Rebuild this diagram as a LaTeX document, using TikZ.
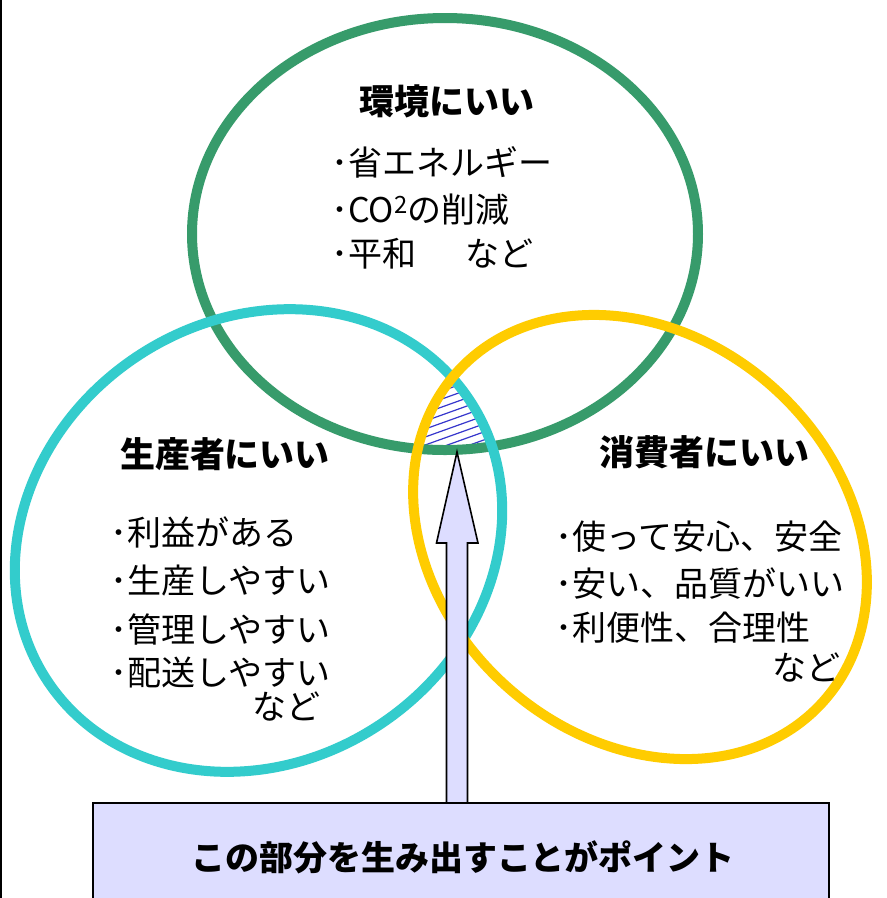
\documentclass[tikz,border=0pt]{standalone}
\usepackage{fontspec}
\usetikzlibrary{calc}
\setmainfont{Noto Sans CJK JP}
\definecolor{ringgreen}{HTML}{379B6B}
\definecolor{ringcyan}{HTML}{33CCCC}
\definecolor{ringyellow}{HTML}{FFCC00}
\definecolor{lav}{HTML}{DDDDFF}
\definecolor{hatchblue}{HTML}{3636CC}
\begin{document}
\begin{tikzpicture}[x=1pt,y=-1pt,
  ring/.style={line width=10pt},
  itemtxt/.style={font=\fontsize{34}{40}\selectfont, inner sep=0pt, anchor=west},
  titletxt/.style={font=\bfseries\fontsize{35}{40}\selectfont, inner sep=0pt},
  hatchline/.style={draw=hatchblue, line width=1.2pt},
  blockarrow/.style={draw=black, fill=lav, line width=1.6pt, line join=miter},
  pointbox/.style={draw=black, fill=lav, line width=2.5pt}]
\useasboundingbox (0,0) rectangle (887,898);
\clip (0,0) rectangle (887,898);
\fill[white] (0,0) rectangle (887,898);
\draw[line width=2pt] (1,0) -- (1,898);

% hatched triple intersection
\begin{scope}
  \clip (445,234) ellipse [x radius=253pt, y radius=216pt];
  \clip[rotate around={34:(258.5,540.5)}] (258.5,540.5) ellipse [x radius=253.5pt, y radius=220.5pt];
  \clip[rotate around={-42:(640,537)}] (640,537) ellipse [x radius=246.3pt, y radius=200.3pt];
  \foreach \c in {366,374,...,510} {
    \draw[hatchline] (400,\c) -- ++(120,-43);
  }
\end{scope}

% rings
\draw[ring, draw=ringgreen] (445,234) ellipse [x radius=253pt, y radius=216pt];
\draw[ring, draw=ringcyan, rotate around={34:(258.5,540.5)}] (258.5,540.5) ellipse [x radius=253.5pt, y radius=220.5pt];
\draw[ring, draw=ringyellow, rotate around={-42:(640,537)}] (640,537) ellipse [x radius=246.3pt, y radius=200.3pt];

% texts: environment
\node[titletxt] (envtitle) at (447,101) {環境にいい};
\node[itemtxt] (env1) at (331,162) {･省エネルギー};
\node[itemtxt] (env2) at (331,210) {･CO\textsuperscript{2}の削減};
\node[itemtxt] (env3) at (331,254) {･平和\hspace{49pt}など};

% producer
\node[titletxt] (prodtitle) at (225,454) {生産者にいい};
\node[itemtxt] (prod1) at (110,532) {･利益がある};
\node[itemtxt] (prod2) at (110,581) {･生産しやすい};
\node[itemtxt] (prod3) at (110,630) {･管理しやすい};
\node[itemtxt] (prod4) at (110,673) {･配送しやすい};
\node[itemtxt, anchor=center] (prod5) at (286,707) {など};

% consumer
\node[titletxt] (constitle) at (704,452) {消費者にいい};
\node[itemtxt] (cons1) at (555,537) {･使って安心、安全};
\node[itemtxt] (cons2) at (555,584) {･安い、品質がいい};
\node[itemtxt] (cons3) at (555,628) {･利便性、合理性};
\node[itemtxt, anchor=center] (cons4) at (806,668) {など};

% arrow and box
\coordinate (tip) at (457,452);
\coordinate (base) at (457,803);
\path[blockarrow] ($(base)+(-10.5,0)$) -- ++(0,-260) -- ++(-10,0) -- (tip)
  -- ($(base)+(21,-260)$) -- ++(-10.5,0) -- ($(base)+(10.5,0)$) -- cycle;
\draw[pointbox] (93,803) rectangle (829,910);
\node[titletxt, font=\bfseries\fontsize{34}{40}\selectfont] (point) at (463,857) {この部分を生み出すことがポイント};
\end{tikzpicture}
\end{document}
